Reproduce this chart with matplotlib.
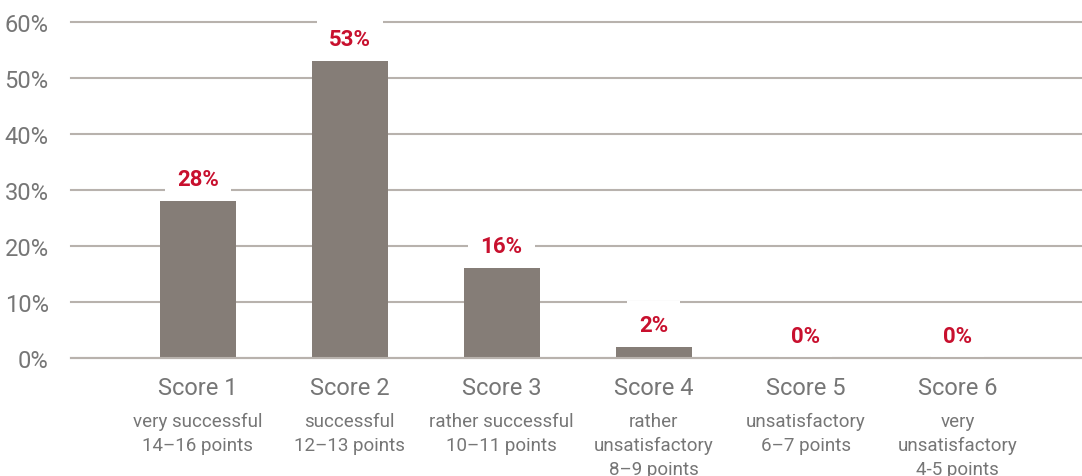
import matplotlib.pyplot as plt
from matplotlib import font_manager
import numpy as np

scores = ['Score 1', 'Score 2', 'Score 3', 'Score 4', 'Score 5', 'Score 6']
descriptions = [['very successful', '14–16 points'],
                ['successful', '12–13 points'],
                ['rather successful', '10–11 points'],
                ['rather', 'unsatisfactory', '8–9 points'],
                ['unsatisfactory', '6–7 points'],
                ['very', 'unsatisfactory', '4-5 points']]
shares = [28, 53, 16, 2, 0, 0]
yticks = [0, 10, 20, 30, 40, 50, 60]

bar_color = '#857d77'
red = '#c8102e'
grid_color = '#b8b2ad'
text_gray = '#767676'

names = {f.name for f in font_manager.fontManager.ttflist}
narrow = 'Liberation Sans Narrow' if 'Liberation Sans Narrow' in names else 'Roboto'
light = 'Roboto' if 'Roboto' in names else 'DejaVu Sans'

fig = plt.figure(figsize=(10.82, 4.77), dpi=100)
ax = fig.add_axes([71 / 1082, 1 - 359 / 477, 1 - 71 / 1082, (359 - 23) / 477])

x = np.arange(len(scores))
ax.set_xlim(-0.835, 5.82)
ax.set_ylim(0, 60)

for t in yticks:
    ax.axhline(t, color=grid_color, lw=1.5, zorder=1, clip_on=False)
ax.axhline(0, color=grid_color, lw=1.5, zorder=4, clip_on=False)

ax.bar(x, shares, width=0.5, color=bar_color, zorder=3)

for xi, v in zip(x, shares):
    ax.annotate(f'{v}%', (xi, v), xytext=(0, 16), textcoords='offset points',
                ha='center', va='center', color=red, fontsize=16,
                fontweight='bold', family=narrow, zorder=2,
                bbox=dict(boxstyle='square,pad=0.55', fc='white', ec='none'))

for xi, s, d in zip(x, scores, descriptions):
    ax.annotate(s, (xi, 0), xycoords=('data', 'axes fraction'),
                xytext=(0, -21), textcoords='offset points',
                ha='center', va='center', fontsize=17, color=text_gray,
                family=light)
    for i, line in enumerate(d):
        ax.annotate(line, (xi, 0), xycoords=('data', 'axes fraction'),
                    xytext=(0, -45.4 - 17.3 * i), textcoords='offset points',
                    ha='center', va='center', fontsize=13.5, color=text_gray,
                    family=light)

ax.set_yticks(yticks)
ax.set_yticklabels([f'{t}%' for t in yticks], fontsize=17, color=text_gray,
                   family=light)
ax.tick_params(axis='y', length=0, pad=16)
ax.set_xticks([])
for sp in ax.spines.values():
    sp.set_visible(False)

fig.savefig('out.png', dpi=100)
